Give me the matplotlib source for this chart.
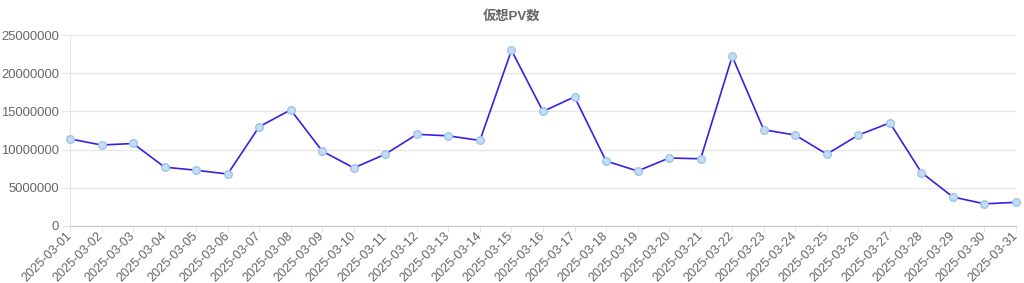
import matplotlib
matplotlib.use("Agg")
import matplotlib.pyplot as plt
from matplotlib.ticker import MultipleLocator, FuncFormatter

plt.rcParams['font.family'] = ['Liberation Sans', 'Noto Sans CJK JP', 'DejaVu Sans']

dates = [f"2025-03-{d:02d}" for d in range(1, 32)]
pv = [11.4, 10.6, 10.8, 7.7, 7.3, 6.8, 13.0, 15.2, 9.8, 7.6, 9.4, 12.0, 11.8, 11.2,
      23.0, 15.0, 16.9, 8.5, 7.2, 8.9, 8.8, 22.2, 12.6, 11.9, 9.4, 11.9, 13.5, 7.0,
      3.8, 2.9, 3.1]
pv = [v * 1_000_000 for v in pv]
title = "仮想PV数"

fig = plt.figure(figsize=(10.24, 2.83), dpi=100)
ax = fig.add_axes([70/1024, 1-226/283, (1016-70)/1024, (226-35)/283])

x = list(range(len(dates)))
ax.plot(x, pv, color='#3b1fe0', lw=1.2, zorder=3)
ax.scatter(x, pv, s=30, facecolor='#c6dcf3', edgecolor='#9cc6ec', lw=1.0, zorder=4,
           clip_on=False)

ax.set_xlim(0, len(dates) - 1)
ax.set_ylim(0, 25_000_000)
ax.yaxis.set_major_locator(MultipleLocator(5_000_000))
ax.yaxis.set_major_formatter(FuncFormatter(lambda v, p: f"{int(v)}"))
ax.set_xticks(x)
ax.set_xticklabels(dates, rotation=45, ha='right', va='center', rotation_mode='anchor')
ax.grid(axis='y', color='#e6e6e6', lw=1)
ax.set_axisbelow(True)
for s in ['top', 'right']:
    ax.spines[s].set_visible(False)
ax.spines['left'].set_color('#e6e6e6')
ax.spines['bottom'].set_color('#c8c8c8')
ax.tick_params(axis='y', colors='#666666', labelsize=9.4, length=6, pad=2)
ax.tick_params(axis='x', colors='#666666', labelsize=9.1, length=4, pad=2)
ax.tick_params(axis='both', color='#e6e6e6')

fig.text(0.5, 1-16/283, title, ha='center', va='center', fontsize=9.5,
         fontweight='bold', color='#666666')

fig.savefig("out.png", dpi=100)
